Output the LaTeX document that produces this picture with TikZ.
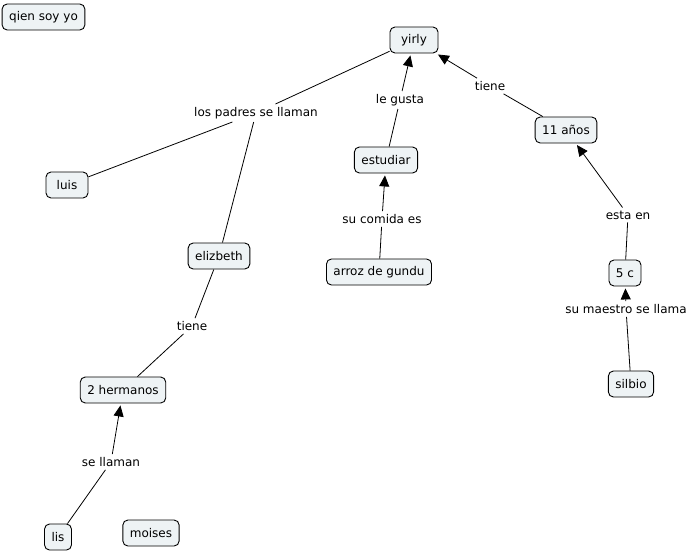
\documentclass[tikz,border=0pt]{standalone}
\usepackage{fontspec}
\setmainfont{DejaVu Sans}
\usetikzlibrary{arrows.meta}
\definecolor{cfill}{HTML}{EEF3F5}
\begin{document}
\begin{tikzpicture}[x=1pt,y=-1pt,
  concept/.style={draw=black, fill=cfill, rounded corners=5pt, line width=0.9pt,
    minimum height=26pt, inner xsep=7pt, inner ysep=2pt, font=\fontsize{12}{14}\selectfont},
  lbl/.style={inner sep=3pt, font=\fontsize{12}{14}\selectfont, fill=white},
  ln/.style={draw=black, line width=0.8pt},
  arr/.style={ln, -{Triangle[length=11pt,width=10pt]}, shorten >=2pt}]
\useasboundingbox (0,0) rectangle (691,552);
% concepts
\node[concept] (qien) at (43.5,17) {qien soy yo};
\node[concept, minimum width=48pt] (yirly) at (414,40) {yirly};
\node[concept, minimum width=42pt] (luis) at (67,185) {luis};
\node[concept] (eliz) at (219,256) {elizbeth};
\node[concept] (anos) at (566,130) {11 años};
\node[concept] (estu) at (386,160) {estudiar};
\node[concept] (arroz) at (379,272) {arroz de gundu};
\node[concept] (cinco) at (625,273) {5 c};
\node[concept] (silbio) at (631,384) {silbio};
\node[concept] (herm) at (123,390) {2 hermanos};
\node[concept] (lis) at (58,537) {lis};
\node[concept] (moises) at (151,533) {moises};
% linking labels
\node[lbl] (padres) at (256,113) {los padres se llaman};
\node[lbl] (gusta) at (400,100) {le gusta};
\node[lbl] (tiene1) at (490,86) {tiene};
\node[lbl] (estaen) at (628,215) {esta en};
\node[lbl] (comida) at (382,219) {su comida es};
\node[lbl] (maestro) at (626,309) {su maestro se llama};
\node[lbl] (tiene2) at (192,326) {tiene};
\node[lbl] (llaman) at (111,462) {se llaman};
% connectors
\draw[ln] (yirly) -- (padres);
\draw[ln] (padres) -- (luis);
\draw[ln] (padres) -- (eliz);
\draw[ln] (estu) -- (gusta);
\draw[arr] (gusta) -- (yirly);
\draw[ln] (anos) -- (tiene1);
\draw[arr] (tiene1) -- (yirly);
\draw[ln] (cinco) -- (estaen);
\draw[arr] (estaen) -- (anos);
\draw[ln] (silbio) -- (maestro);
\draw[arr] (maestro) -- (cinco);
\draw[ln] (arroz) -- (comida);
\draw[arr] (comida) -- (estu);
\draw[ln] (eliz) -- (tiene2);
\draw[ln] (tiene2) -- (herm);
\draw[ln] (lis) -- (llaman);
\draw[arr] (llaman) -- (herm);
\end{tikzpicture}
\end{document}
